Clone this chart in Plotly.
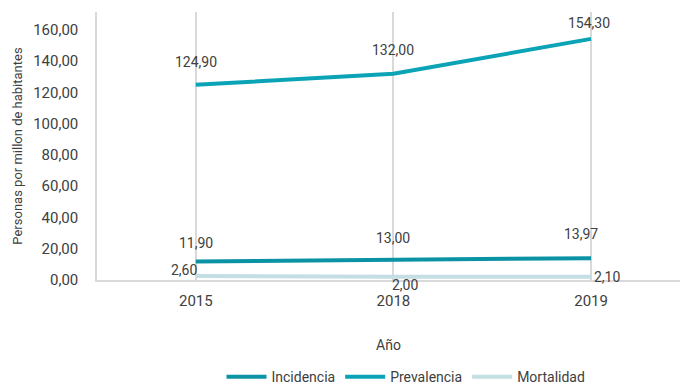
import plotly.graph_objects as go

years = ["2015", "2018", "2019"]
incidencia = [11.90, 13.00, 13.97]
prevalencia = [124.90, 132.00, 154.30]
mortalidad = [2.60, 2.00, 2.10]

series = [
    ("Incidencia", incidencia, "#0B93A5"),
    ("Prevalencia", prevalencia, "#0AA4B6"),
    ("Mortalidad", mortalidad, "#C4DEE3"),
]

# label offsets (px) per series and point
offsets = {
    "Incidencia": [(0, 18), (0, 22), (-10, 24)],
    "Prevalencia": [(0, 23), (0, 24), (-2, 16)],
    "Mortalidad": [(-12, 6), (12, -8), (16, 0)],
}

FONT = "Roboto, Arial"
TXT = "#404040"

fig = go.Figure()
for name, vals, color in series:
    fig.add_trace(go.Scatter(
        x=years, y=vals, name=name, mode="lines",
        line=dict(color=color, width=4),
    ))

# value labels, placed at each category index on the category axis
annotations = []
for name, vals, color in series:
    for i, ((dx, dy), v) in enumerate(zip(offsets[name], vals)):
        annotations.append(dict(
            x=i, y=v, xref="x", yref="y",
            text=f"{v:.2f}".replace(".", ","),
            showarrow=False, xshift=dx, yshift=dy,
            font=dict(family=FONT, size=14, color=TXT),
        ))

fig.update_layout(
    width=681, height=384,
    margin=dict(l=97, r=1, t=12, b=104),
    paper_bgcolor="white", plot_bgcolor="white",
    font=dict(family=FONT, color=TXT),
    separators=",.",
    showlegend=True,
    legend=dict(orientation="h", x=0.53, xanchor="center",
                yref="container", y=0.018, yanchor="middle",
                font=dict(size=14, color=TXT), itemwidth=40, tracegroupgap=0),
    annotations=annotations,
    xaxis=dict(
        type="category", range=[-0.5, 2.45], automargin=False,
        showgrid=True, gridcolor="#D9D9D9", gridwidth=1.5,
        showline=True, linecolor="#D9D9D9", linewidth=1.5,
        ticks="", tickfont=dict(size=15, color=TXT), ticklabelstandoff=6,
        title=dict(text="Año", font=dict(size=14, color=TXT), standoff=31),
    ),
    yaxis=dict(
        range=[0, 171.5], tickvals=[0, 20, 40, 60, 80, 100, 120, 140, 160],
        tickformat=".2f", showgrid=False, zeroline=False, automargin=False,
        showline=True, linecolor="#D9D9D9", linewidth=1.5,
        ticks="", tickfont=dict(size=15, color=TXT), ticklabelstandoff=14,
        title=dict(text="Personas por millon de habitantes", font=dict(size=13, color=TXT), standoff=8),
    ),
)

fig.write_html("out.html")
